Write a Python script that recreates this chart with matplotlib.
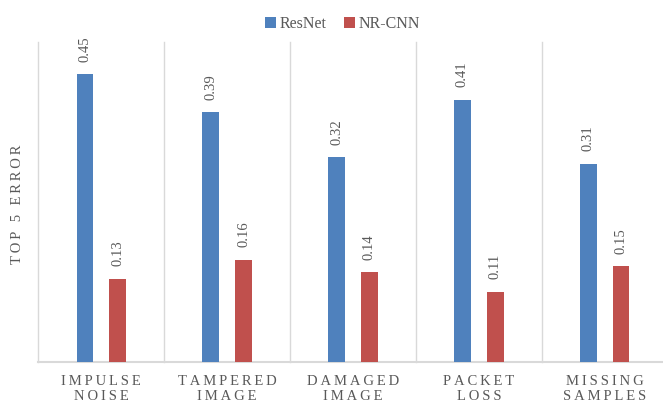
import matplotlib.pyplot as plt
import numpy as np

plt.rcParams['font.family'] = ['Liberation Serif', 'DejaVu Serif']

categories = ["IMPULSE\nNOISE", "TAMPERED\nIMAGE", "DAMAGED\nIMAGE", "PACKET\nLOSS", "MISSING\nSAMPLES"]
resnet = [0.45, 0.39, 0.32, 0.41, 0.31]
nrcnn = [0.13, 0.16, 0.14, 0.11, 0.15]

blue = '#4F81BD'
red = '#C0504D'
text_gray = '#595959'
grid_gray = '#D9D9D9'
THIN = '\u2009'

fig = plt.figure(figsize=(6.63, 4.08), dpi=100)
ax = fig.add_axes([0.0579, 0.1127, 0.949, 0.7843])

x = np.arange(len(categories))
w = 0.133
off = 0.13

b1 = ax.bar(x - off, resnet, w, color=blue, label='ResNet', zorder=3)
b2 = ax.bar(x + off, nrcnn, w, color=red, label='NR-CNN', zorder=3)

# value labels, rotated like the Excel chart
for bars, vals in ((b1, resnet), (b2, nrcnn)):
    for rect, v in zip(bars, vals):
        ax.annotate(f"{v:.2f}", (rect.get_x() + rect.get_width() / 2, v),
                    xytext=(0, 9), textcoords='offset points',
                    rotation=90, ha='center', va='bottom',
                    fontsize=10.5, color=text_gray)

# vertical separators between categories
for b in np.arange(-0.5, len(categories), 1.0):
    ax.plot([b, b], [0, 0.5], color=grid_gray, lw=1, zorder=1, clip_on=False)

ax.set_xlim(-0.5, len(categories) - 0.5)
ax.set_ylim(0, 0.5)

# spaced-out letters for the category labels
spaced = ["\n".join(THIN.join(word) for word in c.split("\n")) for c in categories]
ax.set_xticks(x)
ax.set_xticklabels(spaced, fontsize=10.5, color=text_gray, linespacing=1.25)
ax.tick_params(axis='x', length=0, pad=9)
ax.set_yticks([])

for s in ('top', 'right', 'left'):
    ax.spines[s].set_visible(False)
ax.spines['bottom'].set_color(grid_gray)
ax.spines['bottom'].set_linewidth(1.5)

fig.text(0.026, 0.5, THIN.join("TOP 5 ERROR"), rotation=90, ha='center', va='center',
         fontsize=10.5, color=text_gray)

fig.legend(loc='upper center', bbox_to_anchor=(0.517, 0.995), ncol=2, frameon=False,
           fontsize=11.5, handlelength=0.65, handleheight=0.65,
           handletextpad=0.25, columnspacing=1.1, labelcolor=text_gray)

fig.savefig('out.png', dpi=100)
